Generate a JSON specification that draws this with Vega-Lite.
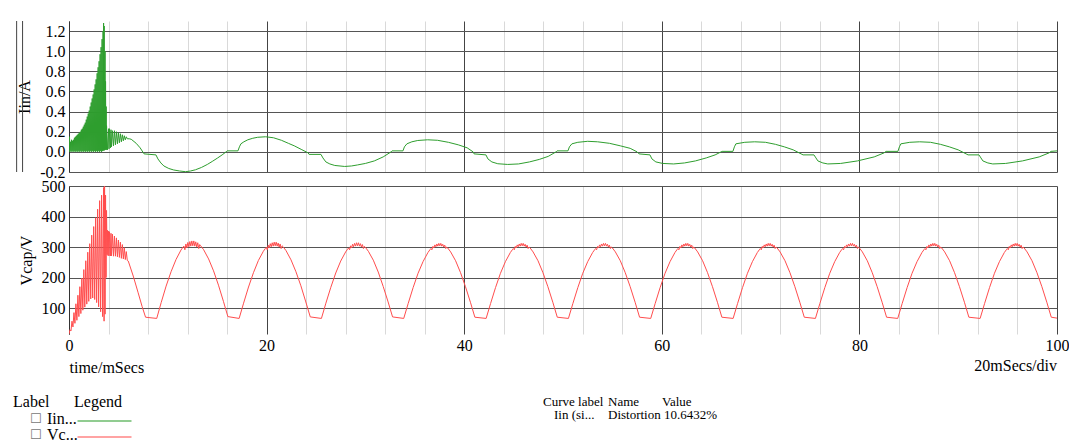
{
  "$schema": "https://vega.github.io/schema/vega-lite/v6.json",
  "background": "white",
  "padding": {"left": 12, "top": 20, "right": 0, "bottom": 0},
  "bounds": "flush",
  "spacing": 14,
  "config": {
    "view": {"stroke": null},
    "font": "Liberation Serif",
    "axis": {
      "labelFont": "Liberation Serif", "labelFontSize": 16, "labelColor": "#000",
      "titleFont": "Liberation Serif", "titleFontSize": 16, "titleFontWeight": "normal", "titleColor": "#000",
      "ticks": false, "domainColor": "#333", "gridColor": "#555", "gridOpacity": 1, "labelPadding": 4,
      "labelOverlap": false, "labelFlush": false
    }
  },
  "datasets": {
    "iin": [
      {"t":0,"v":0},{"t":0.05,"v":0.15},{"t":0.1,"v":0.0},{"t":0.15,"v":0.1},{"t":0.2,"v":0.01},{"t":0.25,"v":0.12},{"t":0.3,"v":0.0},{"t":0.35,"v":0.11},{"t":0.4,"v":0.01},{"t":0.45,"v":0.12},{"t":0.5,"v":0.0},{"t":0.55,"v":0.14},{"t":0.6,"v":0.01},{"t":0.65,"v":0.15},{"t":0.7,"v":0.0},{"t":0.75,"v":0.16},{"t":0.8,"v":0.01},{"t":0.85,"v":0.17},{"t":0.9,"v":0.0},{"t":0.95,"v":0.18},{"t":1.0,"v":0.01},{"t":1.05,"v":0.19},{"t":1.1,"v":0.0},{"t":1.15,"v":0.2},{"t":1.2,"v":0.01},{"t":1.25,"v":0.22},{"t":1.3,"v":0.0},{"t":1.35,"v":0.23},{"t":1.4,"v":0.01},{"t":1.45,"v":0.25},{"t":1.5,"v":0.0},{"t":1.55,"v":0.27},{"t":1.6,"v":0.01},{"t":1.65,"v":0.29},{"t":1.7,"v":0.0},{"t":1.75,"v":0.32},{"t":1.8,"v":0.01},{"t":1.85,"v":0.35},{"t":1.9,"v":0.0},{"t":1.95,"v":0.38},{"t":2.0,"v":0.01},{"t":2.05,"v":0.41},{"t":2.1,"v":0.0},{"t":2.15,"v":0.45},{"t":2.2,"v":0.01},{"t":2.25,"v":0.49},{"t":2.3,"v":0.0},{"t":2.35,"v":0.53},{"t":2.4,"v":0.01},{"t":2.45,"v":0.57},{"t":2.5,"v":0.0},{"t":2.55,"v":0.62},{"t":2.6,"v":0.01},{"t":2.65,"v":0.67},{"t":2.7,"v":0.0},{"t":2.75,"v":0.72},{"t":2.8,"v":0.01},{"t":2.85,"v":0.78},{"t":2.9,"v":0.0},{"t":2.95,"v":0.84},{"t":3.0,"v":0.01},{"t":3.05,"v":0.9},{"t":3.1,"v":0.0},{"t":3.15,"v":0.97},{"t":3.2,"v":0.01},{"t":3.25,"v":1.04},{"t":3.3,"v":0.0},{"t":3.35,"v":1.12},{"t":3.4,"v":0.01},{"t":3.45,"v":1.2},{"t":3.48,"v":0.02},{"t":3.5,"v":1.28},{"t":3.53,"v":0.01},{"t":3.56,"v":1.25},{"t":3.6,"v":0.02},{"t":3.65,"v":1.0},{"t":3.68,"v":0.02},{"t":3.7,"v":0.7},{"t":3.73,"v":0.03},{"t":3.76,"v":0.45},{"t":3.78,"v":0.02},{"t":3.8,"v":0.26},
      {"t":3.9,"v":0.02},{"t":4.0,"v":0.23},{"t":4.05,"v":0.03},{"t":4.1,"v":0.23},{"t":4.2,"v":0.04},{"t":4.25,"v":0.22},{"t":4.3,"v":0.05},{"t":4.4,"v":0.21},{"t":4.5,"v":0.06},{"t":4.6,"v":0.21},{"t":4.7,"v":0.07},{"t":4.8,"v":0.2},{"t":4.9,"v":0.08},{"t":5.0,"v":0.19},{"t":5.1,"v":0.09},{"t":5.2,"v":0.18},{"t":5.3,"v":0.1},{"t":5.4,"v":0.17},{"t":5.5,"v":0.11},{"t":5.6,"v":0.16},{"t":5.7,"v":0.12},{"t":5.8,"v":0.15},{"t":5.9,"v":0.13},{"t":6.1,"v":0.13},
      {"t":6.3,"v":0.125},{"t":6.8,"v":0.085},{"t":7.2,"v":0.04},{"t":7.6,"v":-0.02},{"t":8.8,"v":-0.03},{"t":9.0,"v":-0.07},{"t":9.3,"v":-0.11},{"t":9.6,"v":-0.14},{"t":10.1,"v":-0.165},{"t":10.6,"v":-0.18},{"t":11.2,"v":-0.19},{"t":11.8,"v":-0.197},{"t":12.3,"v":-0.19},{"t":12.8,"v":-0.178},{"t":13.4,"v":-0.155},{"t":14.0,"v":-0.125},{"t":14.5,"v":-0.095},{"t":15.05,"v":-0.06},{"t":15.5,"v":-0.03},{"t":15.9,"v":0.0},{"t":16.0,"v":0.01},{"t":17.1,"v":0.01},
      {"t":17.25,"v":0.05},{"t":17.4,"v":0.08},{"t":17.7,"v":0.1},{"t":18.1,"v":0.12},{"t":18.6,"v":0.135},{"t":19.1,"v":0.145},{"t":19.9,"v":0.15},{"t":20.7,"v":0.14},{"t":21.5,"v":0.115},{"t":22.2,"v":0.085},{"t":22.8,"v":0.06},{"t":23.5,"v":0.025},{"t":24.2,"v":-0.01},{"t":24.3,"v":-0.025},{"t":25.5,"v":-0.025},
      {"t":25.7,"v":-0.06},{"t":26.0,"v":-0.1},{"t":26.4,"v":-0.12},{"t":26.9,"v":-0.135},{"t":27.9,"v":-0.145},{"t":28.6,"v":-0.14},{"t":29.2,"v":-0.13},{"t":30.0,"v":-0.115},{"t":30.9,"v":-0.09},{"t":31.8,"v":-0.05},{"t":32.6,"v":0.0},{"t":32.7,"v":0.01},{"t":33.8,"v":0.01},
      {"t":33.95,"v":0.05},{"t":34.2,"v":0.08},{"t":34.7,"v":0.1},{"t":35.3,"v":0.113},{"t":36.3,"v":0.12},{"t":37.3,"v":0.115},{"t":38.4,"v":0.095},{"t":39.4,"v":0.07},{"t":40.3,"v":0.04},{"t":40.9,"v":0.0},{"t":41.0,"v":-0.02},{"t":42.2,"v":-0.03},
      {"t":42.4,"v":-0.07},{"t":42.8,"v":-0.1},{"t":43.4,"v":-0.118},{"t":44.4,"v":-0.125},{"t":45.5,"v":-0.12},{"t":46.6,"v":-0.1},{"t":47.6,"v":-0.075},{"t":48.5,"v":-0.045},{"t":49.3,"v":0.0},{"t":49.4,"v":0.01},{"t":50.5,"v":0.01},
      {"t":50.65,"v":0.05},{"t":50.9,"v":0.08},{"t":51.5,"v":0.095},{"t":52.5,"v":0.105},{"t":53.5,"v":0.1},{"t":54.7,"v":0.085},{"t":55.8,"v":0.06},{"t":56.8,"v":0.035},{"t":57.5,"v":0.0},{"t":57.7,"v":-0.02},{"t":58.8,"v":-0.03},
      {"t":59.0,"v":-0.07},{"t":59.4,"v":-0.1},{"t":60.1,"v":-0.115},{"t":61.2,"v":-0.12},{"t":62.3,"v":-0.11},{"t":63.4,"v":-0.09},{"t":64.5,"v":-0.06},{"t":65.4,"v":-0.03},{"t":66.0,"v":0.0},{"t":66.1,"v":0.005},{"t":67.2,"v":0.005},
      {"t":67.35,"v":0.05},{"t":67.5,"v":0.08},{"t":68.4,"v":0.095},{"t":69.4,"v":0.1},{"t":70.5,"v":0.095},{"t":71.5,"v":0.075},{"t":72.4,"v":0.05},{"t":73.3,"v":0.02},{"t":74.1,"v":-0.02},{"t":74.3,"v":-0.03},{"t":75.4,"v":-0.03},
      {"t":75.6,"v":-0.06},{"t":75.8,"v":-0.09},{"t":76.3,"v":-0.11},{"t":76.8,"v":-0.12},{"t":78.1,"v":-0.115},{"t":79.8,"v":-0.09},{"t":81.5,"v":-0.05},{"t":82.5,"v":-0.01},{"t":82.7,"v":0.005},{"t":83.9,"v":0.005},
      {"t":84.05,"v":0.05},{"t":84.2,"v":0.08},{"t":85.1,"v":0.095},{"t":86.1,"v":0.1},{"t":87.2,"v":0.095},{"t":88.2,"v":0.075},{"t":89.1,"v":0.05},{"t":90.0,"v":0.02},{"t":90.8,"v":-0.02},{"t":91.0,"v":-0.03},{"t":92.1,"v":-0.03},
      {"t":92.3,"v":-0.06},{"t":92.5,"v":-0.09},{"t":93.0,"v":-0.11},{"t":93.5,"v":-0.12},{"t":94.8,"v":-0.115},{"t":96.5,"v":-0.09},{"t":98.2,"v":-0.05},{"t":99.2,"v":-0.01},{"t":99.4,"v":0.005},{"t":100,"v":0.01}
    ],
    "vcap": [
      {"t":0,"v":15},{"t":0.1,"v":29},{"t":0.2,"v":25},{"t":0.3,"v":57},{"t":0.4,"v":38},{"t":0.5,"v":85},{"t":0.6,"v":50},{"t":0.7,"v":114},{"t":0.8,"v":60},{"t":0.9,"v":142},{"t":1.0,"v":72},{"t":1.1,"v":170},{"t":1.2,"v":82},{"t":1.3,"v":198},{"t":1.4,"v":93},{"t":1.5,"v":226},{"t":1.6,"v":103},{"t":1.7,"v":255},{"t":1.8,"v":113},{"t":1.9,"v":283},{"t":2.0,"v":122},{"t":2.1,"v":311},{"t":2.2,"v":130},{"t":2.3,"v":339},{"t":2.4,"v":133},{"t":2.5,"v":367},{"t":2.6,"v":128},{"t":2.7,"v":396},{"t":2.8,"v":118},{"t":2.9,"v":424},{"t":3.0,"v":104},{"t":3.1,"v":452},{"t":3.2,"v":88},{"t":3.3,"v":470},{"t":3.4,"v":72},{"t":3.5,"v":495},{"t":3.55,"v":57},{"t":3.6,"v":500},{"t":3.65,"v":80},{"t":3.7,"v":470},{"t":3.75,"v":200},{"t":3.8,"v":420},{"t":3.85,"v":275},{"t":3.9,"v":355},
      {"t":3.95,"v":272},{"t":4.0,"v":352},{"t":4.05,"v":271},{"t":4.1,"v":350},{"t":4.2,"v":271},{"t":4.25,"v":345},{"t":4.3,"v":271},{"t":4.4,"v":342},{"t":4.5,"v":270},{"t":4.6,"v":336},{"t":4.7,"v":270},{"t":4.8,"v":330},{"t":4.9,"v":268},{"t":5.0,"v":323},{"t":5.1,"v":266},{"t":5.2,"v":316},{"t":5.3,"v":263},{"t":5.4,"v":308},{"t":5.5,"v":261},{"t":5.6,"v":298},{"t":5.7,"v":259},{"t":5.8,"v":285},{"t":5.9,"v":256},{"t":6.0,"v":254},
      {"t":6.5,"v":205},{"t":7.0,"v":150},{"t":7.4,"v":105},{"t":7.75,"v":70},
      {"t":8.88,"v":66},{"t":9.33,"v":118},{"t":9.83,"v":172},{"t":10.33,"v":219},{"t":10.83,"v":259},{"t":11.33,"v":290},{"t":11.53,"v":299},{"t":11.63,"v":303},{"t":11.73,"v":291},{"t":11.83,"v":310},{"t":11.93,"v":297},{"t":12.03,"v":315},{"t":12.13,"v":301},{"t":12.23,"v":318},{"t":12.33,"v":303},{"t":12.43,"v":320},{"t":12.53,"v":304},{"t":12.63,"v":320},{"t":12.73,"v":303},{"t":12.83,"v":317},{"t":12.93,"v":300},{"t":13.03,"v":314},{"t":13.13,"v":295},{"t":13.23,"v":308},{"t":13.33,"v":304},{"t":13.63,"v":291},{"t":14.13,"v":261},{"t":14.63,"v":222},{"t":15.13,"v":175},{"t":15.63,"v":122},{"t":16.08,"v":72},
      {"t":17.22,"v":66},{"t":17.67,"v":116},{"t":18.17,"v":169},{"t":18.67,"v":216},{"t":19.17,"v":256},{"t":19.67,"v":286},{"t":19.87,"v":295},{"t":19.97,"v":299},{"t":20.07,"v":291},{"t":20.17,"v":306},{"t":20.27,"v":297},{"t":20.37,"v":311},{"t":20.47,"v":301},{"t":20.57,"v":314},{"t":20.67,"v":303},{"t":20.77,"v":316},{"t":20.87,"v":304},{"t":20.97,"v":316},{"t":21.07,"v":303},{"t":21.17,"v":313},{"t":21.27,"v":300},{"t":21.37,"v":310},{"t":21.47,"v":295},{"t":21.57,"v":304},{"t":21.67,"v":301},{"t":21.97,"v":288},{"t":22.47,"v":258},{"t":22.97,"v":219},{"t":23.47,"v":173},{"t":23.97,"v":120},{"t":24.42,"v":71},
      {"t":25.55,"v":66},{"t":26.0,"v":116},{"t":26.5,"v":168},{"t":27.0,"v":215},{"t":27.5,"v":254},{"t":28.0,"v":284},{"t":28.2,"v":293},{"t":28.3,"v":297},{"t":28.4,"v":291},{"t":28.5,"v":304},{"t":28.6,"v":297},{"t":28.7,"v":309},{"t":28.8,"v":301},{"t":28.9,"v":312},{"t":29.0,"v":303},{"t":29.1,"v":314},{"t":29.2,"v":304},{"t":29.3,"v":314},{"t":29.4,"v":303},{"t":29.5,"v":311},{"t":29.6,"v":300},{"t":29.7,"v":308},{"t":29.8,"v":295},{"t":29.9,"v":302},{"t":30.0,"v":299},{"t":30.3,"v":286},{"t":30.8,"v":257},{"t":31.3,"v":218},{"t":31.8,"v":171},{"t":32.3,"v":120},{"t":32.75,"v":71},
      {"t":33.88,"v":66},{"t":34.33,"v":115},{"t":34.83,"v":167},{"t":35.33,"v":214},{"t":35.83,"v":252},{"t":36.33,"v":282},{"t":36.53,"v":291},{"t":36.63,"v":295},{"t":36.73,"v":291},{"t":36.83,"v":302},{"t":36.93,"v":297},{"t":37.03,"v":307},{"t":37.13,"v":301},{"t":37.23,"v":310},{"t":37.33,"v":303},{"t":37.43,"v":312},{"t":37.53,"v":304},{"t":37.63,"v":312},{"t":37.73,"v":303},{"t":37.83,"v":309},{"t":37.93,"v":300},{"t":38.03,"v":306},{"t":38.13,"v":295},{"t":38.23,"v":300},{"t":38.33,"v":297},{"t":38.63,"v":284},{"t":39.13,"v":255},{"t":39.63,"v":216},{"t":40.13,"v":170},{"t":40.63,"v":119},{"t":41.08,"v":70},
      {"t":42.22,"v":66},{"t":42.67,"v":115},{"t":43.17,"v":167},{"t":43.67,"v":214},{"t":44.17,"v":252},{"t":44.67,"v":282},{"t":44.87,"v":291},{"t":44.97,"v":295},{"t":45.07,"v":291},{"t":45.17,"v":302},{"t":45.27,"v":297},{"t":45.37,"v":307},{"t":45.47,"v":301},{"t":45.57,"v":310},{"t":45.67,"v":303},{"t":45.77,"v":312},{"t":45.87,"v":304},{"t":45.97,"v":312},{"t":46.07,"v":303},{"t":46.17,"v":309},{"t":46.27,"v":300},{"t":46.37,"v":306},{"t":46.47,"v":295},{"t":46.57,"v":300},{"t":46.67,"v":297},{"t":46.97,"v":284},{"t":47.47,"v":255},{"t":47.97,"v":216},{"t":48.47,"v":170},{"t":48.97,"v":119},{"t":49.42,"v":70},
      {"t":50.55,"v":66},{"t":51.0,"v":115},{"t":51.5,"v":167},{"t":52.0,"v":214},{"t":52.5,"v":252},{"t":53.0,"v":282},{"t":53.2,"v":291},{"t":53.3,"v":295},{"t":53.4,"v":291},{"t":53.5,"v":302},{"t":53.6,"v":297},{"t":53.7,"v":307},{"t":53.8,"v":301},{"t":53.9,"v":310},{"t":54.0,"v":303},{"t":54.1,"v":312},{"t":54.2,"v":304},{"t":54.3,"v":312},{"t":54.4,"v":303},{"t":54.5,"v":309},{"t":54.6,"v":300},{"t":54.7,"v":306},{"t":54.8,"v":295},{"t":54.9,"v":300},{"t":55.0,"v":297},{"t":55.3,"v":284},{"t":55.8,"v":255},{"t":56.3,"v":216},{"t":56.8,"v":170},{"t":57.3,"v":119},{"t":57.75,"v":70},
      {"t":58.88,"v":66},{"t":59.33,"v":115},{"t":59.83,"v":167},{"t":60.33,"v":214},{"t":60.83,"v":252},{"t":61.33,"v":282},{"t":61.53,"v":291},{"t":61.63,"v":295},{"t":61.73,"v":291},{"t":61.83,"v":302},{"t":61.93,"v":297},{"t":62.03,"v":307},{"t":62.13,"v":301},{"t":62.23,"v":310},{"t":62.33,"v":303},{"t":62.43,"v":312},{"t":62.53,"v":304},{"t":62.63,"v":312},{"t":62.73,"v":303},{"t":62.83,"v":309},{"t":62.93,"v":300},{"t":63.03,"v":306},{"t":63.13,"v":295},{"t":63.23,"v":300},{"t":63.33,"v":297},{"t":63.63,"v":284},{"t":64.13,"v":255},{"t":64.63,"v":216},{"t":65.13,"v":170},{"t":65.63,"v":119},{"t":66.08,"v":70},
      {"t":67.22,"v":66},{"t":67.67,"v":115},{"t":68.17,"v":167},{"t":68.67,"v":214},{"t":69.17,"v":252},{"t":69.67,"v":282},{"t":69.87,"v":291},{"t":69.97,"v":295},{"t":70.07,"v":291},{"t":70.17,"v":302},{"t":70.27,"v":297},{"t":70.37,"v":307},{"t":70.47,"v":301},{"t":70.57,"v":310},{"t":70.67,"v":303},{"t":70.77,"v":312},{"t":70.87,"v":304},{"t":70.97,"v":312},{"t":71.07,"v":303},{"t":71.17,"v":309},{"t":71.27,"v":300},{"t":71.37,"v":306},{"t":71.47,"v":295},{"t":71.57,"v":300},{"t":71.67,"v":297},{"t":71.97,"v":284},{"t":72.47,"v":255},{"t":72.97,"v":216},{"t":73.47,"v":170},{"t":73.97,"v":119},{"t":74.42,"v":70},
      {"t":75.55,"v":66},{"t":76.0,"v":115},{"t":76.5,"v":167},{"t":77.0,"v":214},{"t":77.5,"v":252},{"t":78.0,"v":282},{"t":78.2,"v":291},{"t":78.3,"v":295},{"t":78.4,"v":291},{"t":78.5,"v":302},{"t":78.6,"v":297},{"t":78.7,"v":307},{"t":78.8,"v":301},{"t":78.9,"v":310},{"t":79.0,"v":303},{"t":79.1,"v":312},{"t":79.2,"v":304},{"t":79.3,"v":312},{"t":79.4,"v":303},{"t":79.5,"v":309},{"t":79.6,"v":300},{"t":79.7,"v":306},{"t":79.8,"v":295},{"t":79.9,"v":300},{"t":80.0,"v":297},{"t":80.3,"v":284},{"t":80.8,"v":255},{"t":81.3,"v":216},{"t":81.8,"v":170},{"t":82.3,"v":119},{"t":82.75,"v":70},
      {"t":83.88,"v":66},{"t":84.33,"v":115},{"t":84.83,"v":167},{"t":85.33,"v":214},{"t":85.83,"v":252},{"t":86.33,"v":282},{"t":86.53,"v":291},{"t":86.63,"v":295},{"t":86.73,"v":291},{"t":86.83,"v":302},{"t":86.93,"v":297},{"t":87.03,"v":307},{"t":87.13,"v":301},{"t":87.23,"v":310},{"t":87.33,"v":303},{"t":87.43,"v":312},{"t":87.53,"v":304},{"t":87.63,"v":312},{"t":87.73,"v":303},{"t":87.83,"v":309},{"t":87.93,"v":300},{"t":88.03,"v":306},{"t":88.13,"v":295},{"t":88.23,"v":300},{"t":88.33,"v":297},{"t":88.63,"v":284},{"t":89.13,"v":255},{"t":89.63,"v":216},{"t":90.13,"v":170},{"t":90.63,"v":119},{"t":91.08,"v":70},
      {"t":92.22,"v":66},{"t":92.67,"v":115},{"t":93.17,"v":167},{"t":93.67,"v":214},{"t":94.17,"v":252},{"t":94.67,"v":282},{"t":94.87,"v":291},{"t":94.97,"v":295},{"t":95.07,"v":291},{"t":95.17,"v":302},{"t":95.27,"v":297},{"t":95.37,"v":307},{"t":95.47,"v":301},{"t":95.57,"v":310},{"t":95.67,"v":303},{"t":95.77,"v":312},{"t":95.87,"v":304},{"t":95.97,"v":312},{"t":96.07,"v":303},{"t":96.17,"v":309},{"t":96.27,"v":300},{"t":96.37,"v":306},{"t":96.47,"v":295},{"t":96.57,"v":300},{"t":96.67,"v":297},{"t":96.97,"v":284},{"t":97.47,"v":255},{"t":97.97,"v":216},{"t":98.47,"v":170},{"t":98.97,"v":119},{"t":99.42,"v":70},{"t":100,"v":67}
    ]
  },
  "vconcat": [
    {
      "width": 988,
      "height": 151,
      "resolve": {"axis": {"x": "independent"}},
      "layer": [
        {
          "data": {"name": "iin"},
          "mark": {"type": "line", "color": "#2e9e2e", "strokeWidth": 1, "clip": true},
          "encoding": {
            "x": {
              "field": "t", "type": "quantitative",
              "scale": {"domain": [0, 100], "nice": false, "zero": false},
              "axis": {
                "orient": "bottom",
                "values": [4,8,12,16,24,28,32,36,44,48,52,56,64,68,72,76,84,88,92,96],
                "labels": false, "ticks": false, "domain": false, "title": null, "grid": true, "gridColor": "#d9d9d9"
              }
            },
            "y": {
              "field": "v", "type": "quantitative",
              "scale": {"domain": [-0.2, 1.3], "nice": false, "zero": false},
              "axis": {
                "values": [-0.2, 0, 0.2, 0.4, 0.6, 0.8, 1.0, 1.2],
                "labelExpr": "datum.value < 0 ? '-' + format(-datum.value, '.1f') : format(datum.value, '.1f')",
                "labelOverlap": false,
                "title": "Iin/A", "titlePadding": 7, "grid": true
              }
            }
          }
        },
        {
          "data": {"values": [{}]},
          "mark": {"type": "rule", "color": "#444", "strokeWidth": 1},
          "encoding": {
            "x": {"datum": -5.3, "type": "quantitative", "axis": {"orient": "bottom", "values": [0, 20, 40, 60, 80, 100], "labels": false, "ticks": false, "domain": false, "title": null, "grid": true, "gridColor": "#444"}}
          }
        },
        {
          "data": {"values": [{}]},
          "mark": {"type": "rule", "color": "#444", "strokeWidth": 1},
          "encoding": {
            "x": {"datum": -4.7, "type": "quantitative", "axis": null}
          }
        }
      ]
    },
    {
      "width": 988,
      "height": 148,
      "resolve": {"axis": {"x": "independent"}},
      "layer": [
        {
          "data": {"name": "vcap"},
          "mark": {"type": "line", "color": "#ff4d4d", "strokeWidth": 1, "clip": true},
          "encoding": {
            "x": {
              "field": "t", "type": "quantitative",
              "scale": {"domain": [0, 100], "nice": false, "zero": false},
              "axis": {
                "orient": "bottom",
                "values": [4,8,12,16,24,28,32,36,44,48,52,56,64,68,72,76,84,88,92,96],
                "labels": false, "ticks": false, "domain": false, "title": null, "grid": true, "gridColor": "#d9d9d9"
              }
            },
            "y": {
              "field": "v", "type": "quantitative",
              "scale": {"domain": [15, 500], "nice": false, "zero": false},
              "axis": {"values": [100, 200, 300, 400, 500], "labelOverlap": false, "title": "Vcap/V", "titlePadding": 7, "grid": true}
            }
          }
        },
        {
          "data": {"values": [{"label": "20mSecs/div"}]},
          "mark": {"type": "text", "align": "right", "baseline": "top", "dy": 24, "fontSize": 16, "font": "Liberation Serif", "color": "#000"},
          "encoding": {
            "x": {"datum": 100, "type": "quantitative", "axis": {
              "orient": "bottom", "values": [0, 20, 40, 60, 80, 100], "labelOverlap": false, "labelFlush": false, "labelPadding": 3,
              "ticks": false, "domain": false, "grid": true, "gridColor": "#444",
              "title": "time/mSecs", "titleAnchor": "start", "titleAlign": "left", "titlePadding": 6
            }},
            "y": {"datum": 15, "type": "quantitative", "axis": {"values": [100, 200, 300, 400, 500], "labelOverlap": false, "title": "Vcap/V", "titlePadding": 7, "grid": true}},
            "text": {"field": "label"}
          }
        }
      ]
    },
    {
      "bounds": "flush",
      "spacing": 414,
      "hconcat": [
        {
          "width": 60,
          "height": 94,
          "data": {"values": [
            {"curve": "Iin...", "col": "Label"}, {"curve": "Vc...", "col": "Label"},
            {"curve": "Iin...", "col": "Legend"}, {"curve": "Vc...", "col": "Legend"}
          ]},
          "encoding": {
            "x": {
              "field": "col", "type": "nominal", "sort": null,
              "scale": {"type": "band", "domain": ["Label", "Legend"], "range": [-56, 66], "paddingInner": 0, "paddingOuter": 0},
              "axis": {"orient": "top", "title": null, "labelAngle": 0, "labelAlign": "left", "labelBaseline": "middle", "labelOffset": -30.5, "labelPadding": -53, "labelOverlap": false, "ticks": false, "domain": false, "grid": false, "labelFontSize": 16}
            },
            "y": {
              "field": "curve", "type": "nominal", "sort": null,
              "scale": {"type": "point", "range": [71, 87], "padding": 0},
              "axis": null
            }
          },
          "layer": [
            {
              "transform": [{"filter": "datum.col === 'Label'"}],
              "mark": {"type": "text", "align": "left", "baseline": "middle", "fontSize": 13, "font": "DejaVu Sans", "color": "#777", "dx": 17},
              "encoding": {"x": {"field": "col", "type": "nominal", "bandPosition": 0}, "text": {"value": "☐"}}
            },
            {
              "transform": [{"filter": "datum.col === 'Label'"}],
              "mark": {"type": "text", "align": "left", "baseline": "middle", "fontSize": 16, "font": "Liberation Serif", "color": "#000", "dx": 34},
              "encoding": {"x": {"field": "col", "type": "nominal", "bandPosition": 0}, "text": {"field": "curve"}}
            },
            {
              "transform": [{"filter": "datum.col === 'Legend'"}],
              "mark": {"type": "tick", "orient": "horizontal", "size": 54, "thickness": 1.5, "yOffset": 2},
              "encoding": {
                "color": {"field": "curve", "type": "nominal", "sort": null, "scale": {"domain": ["Iin...", "Vc..."], "range": ["#2e9e2e", "#ff5050"]}, "legend": null}
              }
            }
          ]
        },
        {
          "width": 180,
          "height": 94,
          "data": {"values": [
            {"curve": "Iin (si...", "col": "Curve label", "val": "Iin (si..."},
            {"curve": "Iin (si...", "col": "Name", "val": "Distortion"},
            {"curve": "Iin (si...", "col": "Value", "val": "10.6432%"}
          ]},
          "encoding": {
            "x": {
              "field": "col", "type": "nominal", "sort": null, "bandPosition": 0,
              "scale": {"type": "band", "domain": ["Curve label", "Name", "Value"], "range": [0, 180], "paddingInner": 0, "paddingOuter": 0},
              "axis": {
                "orient": "top", "title": null, "labelAngle": 0, "labelAlign": "left", "labelBaseline": "middle", "labelFontSize": 13,
                "labelOffset": {"condition": [{"test": "datum.label === 'Name'", "value": -25}, {"test": "datum.label === 'Value'", "value": -31}], "value": -30},
                "labelOverlap": false, "ticks": false, "domain": false, "labelPadding": -53, "grid": false
              }
            },
            "y": {"field": "curve", "type": "nominal", "scale": {"type": "point", "range": [59, 75]}, "axis": null},
            "text": {"field": "val"}
          },
          "layer": [
            {
              "transform": [{"filter": "datum.col === 'Curve label'"}],
              "mark": {"type": "text", "align": "left", "baseline": "middle", "fontSize": 13, "font": "Liberation Serif", "dx": 11, "color": "#000"}
            },
            {
              "transform": [{"filter": "datum.col === 'Name'"}],
              "mark": {"type": "text", "align": "left", "baseline": "middle", "fontSize": 13, "font": "Liberation Serif", "dx": 5, "color": "#000"}
            },
            {
              "transform": [{"filter": "datum.col === 'Value'"}],
              "mark": {"type": "text", "align": "left", "baseline": "middle", "fontSize": 13, "font": "Liberation Serif", "dx": 1, "color": "#000"}
            }
          ]
        }
      ]
    }
  ]
}
